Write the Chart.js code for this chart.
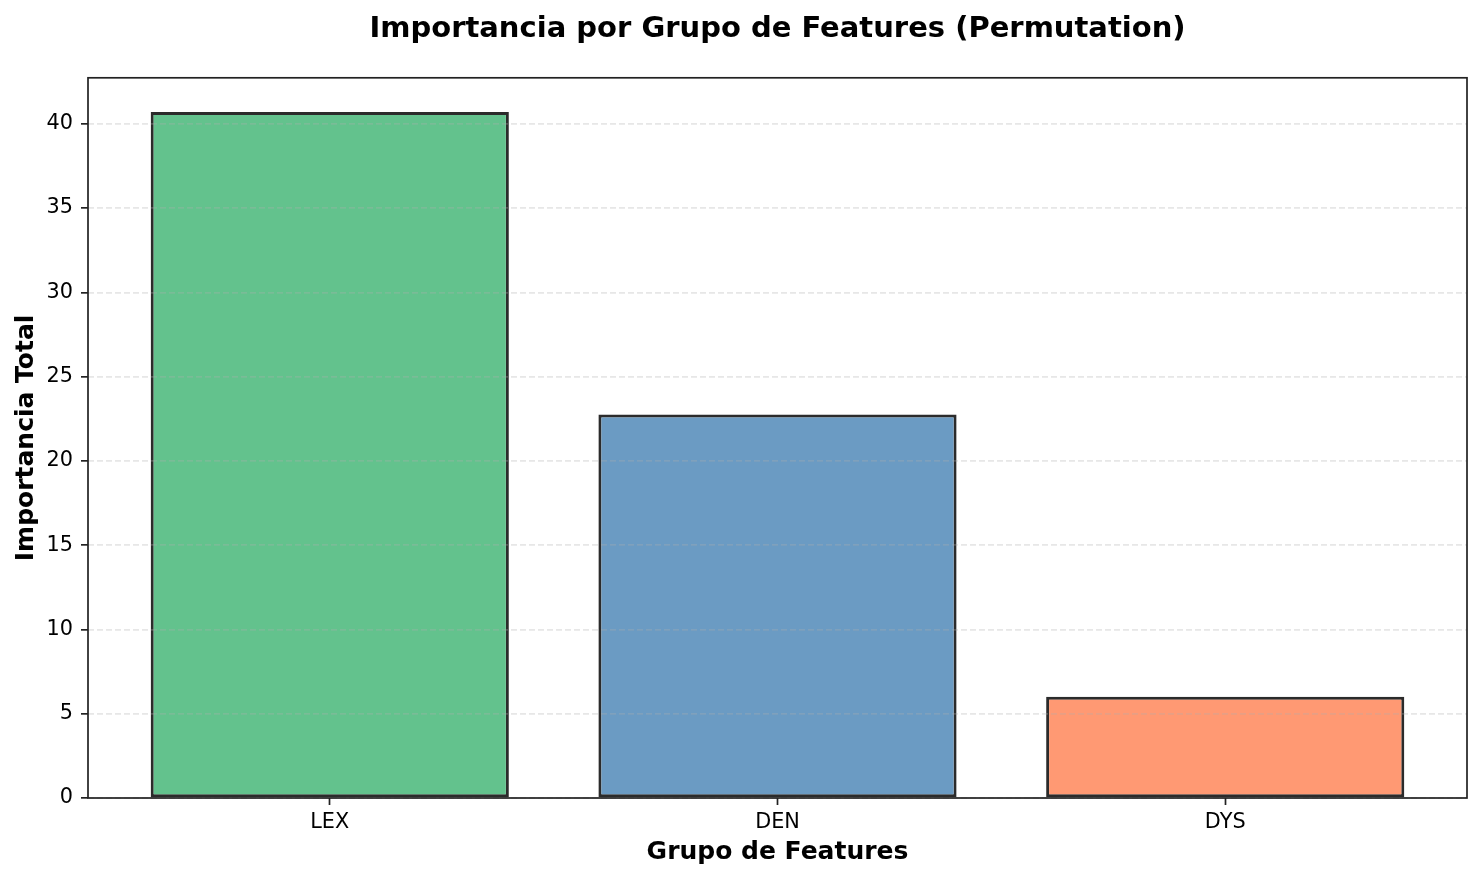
<!DOCTYPE html>
<html>
<head>
<meta charset="utf-8">
<script src="https://cdn.jsdelivr.net/npm/chart.js@4"></script>
<style>
    html, body { margin: 0; padding: 0; background: #ffffff; }
    #wrap { width: 1482px; height: 880px; }
</style>
</head>
<body>
<div id="wrap"><canvas id="chart" width="1482" height="880"></canvas></div>
<script>
// Data
const groups = ['LEX', 'DEN', 'DYS'];
const importance = [40.7, 22.75, 6.0];
const barColors = ['#63c28d', '#6b9bc3', '#ff9973'];
const yTicks = [0, 5, 10, 15, 20, 25, 30, 35, 40];

const FONT = "'DejaVu Sans', sans-serif";
const INK = '#222222';

// Draws the full box around the plot area (matplotlib spines)
const frame = {
    id: 'frame',
    afterDraw(chart) {
        const a = chart.chartArea;
        const ctx = chart.ctx;
        ctx.save();
        ctx.strokeStyle = INK;
        ctx.lineWidth = 1.7;
        ctx.strokeRect(a.left, a.top, a.right - a.left, a.bottom - a.top);
        ctx.restore();
    }
};

document.addEventListener('DOMContentLoaded', function() {
    const ctx = document.getElementById('chart').getContext('2d');

    new Chart(ctx, {
        type: 'bar',
        data: {
            datasets: [{
                data: importance.map((v, i) => ({ x: i, y: v })),
                backgroundColor: barColors,
                borderColor: '#2b2b2b',
                borderWidth: 3,
                borderSkipped: false,
                barPercentage: 0.8,
                categoryPercentage: 1.0
            }]
        },
        options: {
            responsive: false,
            devicePixelRatio: 1,
            animation: false,
            layout: { padding: { left: 0, right: 15, top: 0, bottom: 0 } },
            plugins: {
                legend: { display: false },
                tooltip: { enabled: false },
                title: {
                    display: true,
                    fullSize: false,
                    text: 'Importancia por Grupo de Features (Permutation)',
                    color: '#000',
                    font: { family: FONT, size: 29, weight: 'bold' },
                    padding: { top: 12, bottom: 31 }
                }
            },
            scales: {
                x: {
                    type: 'linear',
                    min: -0.54,
                    max: 2.54,
                    offset: false,
                    afterBuildTicks: scale => {
                        scale.ticks = groups.map((g, i) => ({ value: i }));
                    },
                    afterFit: scale => { scale.height = 82; },
                    ticks: {
                        color: '#000',
                        font: { family: FONT, size: 20.8 },
                        padding: 5,
                        maxRotation: 0,
                        callback: v => groups[v]
                    },
                    grid: {
                        offset: false,
                        drawOnChartArea: false,
                        drawTicks: true,
                        tickLength: 7,
                        tickWidth: 1.7,
                        tickColor: INK
                    },
                    border: { display: false },
                    title: {
                        display: true,
                        text: 'Grupo de Features',
                        color: '#000',
                        font: { family: FONT, size: 25, weight: 'bold' },
                        padding: { top: 0, bottom: 13 }
                    }
                },
                y: {
                    min: 0,
                    max: 42.73,
                    afterBuildTicks: scale => {
                        scale.ticks = yTicks.map(v => ({ value: v }));
                    },
                    afterFit: scale => { scale.width = 88; },
                    ticks: {
                        color: '#000',
                        font: { family: FONT, size: 20.8 },
                        padding: 8
                    },
                    grid: {
                        z: 1,
                        color: 'rgba(176,176,176,0.3)',
                        lineWidth: 1.7,
                        drawTicks: true,
                        tickLength: 7,
                        tickWidth: 1.7,
                        tickColor: INK,
                        tickBorderDash: []
                    },
                    border: { display: false, dash: [6, 3] },
                    title: {
                        display: true,
                        text: 'Importancia Total',
                        color: '#000',
                        font: { family: FONT, size: 25, weight: 'bold' },
                        padding: { top: 11, bottom: 0 }
                    }
                }
            }
        },
        plugins: [frame]
    });
});
</script>
</body>
</html>
